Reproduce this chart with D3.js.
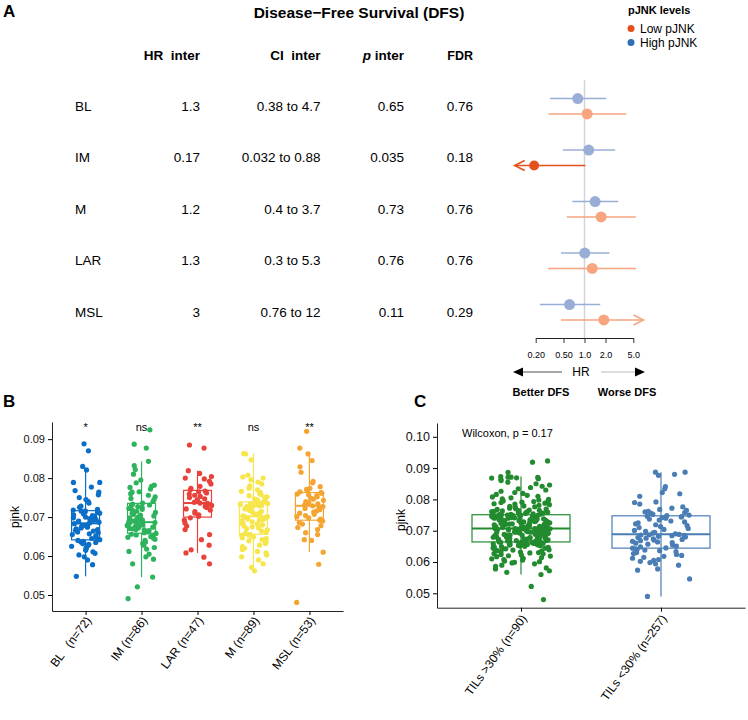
<!DOCTYPE html>
<html>
<head>
<meta charset="utf-8">
<script src="https://cdn.jsdelivr.net/npm/d3@7"></script>
<style>
  body { margin: 0; background: #fff; }
  svg { font-family: "Liberation Sans", Arial, Helvetica, sans-serif; }
  text { white-space: pre; }
</style>
</head>
<body>
<div id="chart"></div>
<script>
// ---------- panel A data (forest table) ----------
const subtypes = ['BL', 'IM', 'M', 'LAR', 'MSL']
const hrInter = ['1.3', '0.17', '1.2', '1.3', '3']
const ciInter = ['0.38 to 4.7', '0.032 to 0.88', '0.4 to 3.7', '0.3 to 5.3', '0.76 to 12']
const pInter = ['0.65', '0.035', '0.73', '0.76', '0.11']
const fdrInter = ['0.76', '0.18', '0.76', '0.76', '0.29']
const highHR = [0.8, 1.15, 1.42, 1.01, 0.61]
const highLower = [0.32, 0.49, 0.67, 0.46, 0.23]
const highUpper = [2.05, 2.75, 3.04, 2.28, 1.68]
const lowHR = [1.09, 0.19, 1.73, 1.29, 1.89]
const lowLower = [0.305, 0.032, 0.56, 0.3, 0.46]
const lowUpper = [3.96, 1.03, 5.43, 5.5, 8.5]
const hrTicks = [0.2, 0.5, 1, 2, 5]

// ---------- panel B data ----------
const bCats = ['BL', 'IM', 'LAR', 'M', 'MSL']
const bLabels = ['BL   (n=72)', 'IM (n=86)', 'LAR (n=47)', 'M (n=89)', 'MSL (n=53)']
const bSig = ['*', 'ns', '**', 'ns', '**']
const blValues = [
  0.0548, 0.0578, 0.0590, 0.0598, 0.0603, 0.0607, 0.0611, 0.0615, 0.0620, 0.0622, 0.0625, 0.0628,
  0.0630, 0.0632, 0.0635, 0.0636, 0.0638, 0.0640, 0.0642, 0.0645, 0.0648, 0.0652, 0.0655, 0.0657,
  0.0660, 0.0662, 0.0664, 0.0666, 0.0668, 0.0670, 0.0672, 0.0674, 0.0676, 0.0678, 0.0680, 0.0683,
  0.0685, 0.0687, 0.0688, 0.0690, 0.0692, 0.0694, 0.0696, 0.0698, 0.0700, 0.0702, 0.0704, 0.0706,
  0.0708, 0.0710, 0.0712, 0.0713, 0.0715, 0.0716, 0.0718, 0.0720, 0.0725, 0.0728, 0.0736, 0.0740,
  0.0745, 0.0750, 0.0757, 0.0764, 0.0768, 0.0777, 0.0789, 0.0789, 0.0821, 0.0830, 0.0870, 0.0888
]
const imValues = [
  0.0491, 0.0521, 0.0546, 0.0580, 0.0592, 0.0598, 0.0605, 0.0612, 0.0618, 0.0622, 0.0628, 0.0632,
  0.0636, 0.0640, 0.0643, 0.0646, 0.0648, 0.0650, 0.0652, 0.0654, 0.0656, 0.0658, 0.0660, 0.0662,
  0.0664, 0.0665, 0.0667, 0.0668, 0.0670, 0.0671, 0.0672, 0.0674, 0.0675, 0.0676, 0.0678, 0.0679,
  0.0680, 0.0681, 0.0682, 0.0683, 0.0684, 0.0685, 0.0686, 0.0688, 0.0690, 0.0692, 0.0694, 0.0696,
  0.0698, 0.0700, 0.0703, 0.0705, 0.0707, 0.0710, 0.0712, 0.0715, 0.0717, 0.0720, 0.0722, 0.0725,
  0.0727, 0.0729, 0.0731, 0.0733, 0.0736, 0.0740, 0.0745, 0.0748, 0.0752, 0.0756, 0.0760, 0.0764,
  0.0765, 0.0772, 0.0776, 0.0779, 0.0782, 0.0788, 0.0795, 0.0810, 0.0822, 0.0832, 0.0843, 0.0877,
  0.0887, 0.0924
]
const larValues = [
  0.0580, 0.0597, 0.0608, 0.0616, 0.0628, 0.0642, 0.0655, 0.0668, 0.0677, 0.0685, 0.0692, 0.0698,
  0.0702, 0.0706, 0.0710, 0.0714, 0.0718, 0.0721, 0.0724, 0.0727, 0.0730, 0.0733, 0.0735, 0.0736,
  0.0738, 0.0741, 0.0744, 0.0747, 0.0750, 0.0753, 0.0756, 0.0759, 0.0762, 0.0765, 0.0767, 0.0770,
  0.0774, 0.0779, 0.0785, 0.0792, 0.0798, 0.0800, 0.0804, 0.0812, 0.0819, 0.0877, 0.0885
]
const mValues = [
  0.0562, 0.0571, 0.0580, 0.0590, 0.0598, 0.0603, 0.0608, 0.0612, 0.0617, 0.0620, 0.0624, 0.0628,
  0.0632, 0.0636, 0.0639, 0.0642, 0.0645, 0.0647, 0.0649, 0.0651, 0.0653, 0.0654, 0.0656, 0.0658,
  0.0661, 0.0664, 0.0667, 0.0670, 0.0672, 0.0675, 0.0677, 0.0680, 0.0682, 0.0684, 0.0686, 0.0688,
  0.0690, 0.0692, 0.0694, 0.0695, 0.0697, 0.0698, 0.0699, 0.0701, 0.0702, 0.0703, 0.0705, 0.0707,
  0.0709, 0.0711, 0.0713, 0.0715, 0.0717, 0.0719, 0.0721, 0.0723, 0.0725, 0.0727, 0.0729, 0.0730,
  0.0731, 0.0732, 0.0734, 0.0735, 0.0736, 0.0737, 0.0739, 0.0741, 0.0744, 0.0747, 0.0750, 0.0752,
  0.0755, 0.0758, 0.0760, 0.0763, 0.0766, 0.0770, 0.0774, 0.0780, 0.0785, 0.0790, 0.0796, 0.0800,
  0.0803, 0.0808, 0.0847, 0.0862, 0.0863
]
const mslValues = [
  0.0481, 0.0579, 0.0610, 0.0640, 0.0642, 0.0655, 0.0660, 0.0668, 0.0673, 0.0678, 0.0682, 0.0686,
  0.0690, 0.0692, 0.0695, 0.0698, 0.0701, 0.0704, 0.0707, 0.0710, 0.0713, 0.0716, 0.0719, 0.0722,
  0.0725, 0.0727, 0.0729, 0.0731, 0.0734, 0.0737, 0.0740, 0.0743, 0.0746, 0.0749, 0.0752, 0.0755,
  0.0757, 0.0759, 0.0761, 0.0763, 0.0765, 0.0768, 0.0771, 0.0774, 0.0778, 0.0788, 0.0792, 0.0815,
  0.0829, 0.0845, 0.0862, 0.0877, 0.0920
]
const bTicks = [0.05, 0.06, 0.07, 0.08, 0.09]

// ---------- panel C data ----------
const cCats = ['high', 'low']
const cLabels = ['TILs >30% (n=90)', 'TILs <30% (n=257)']
const cTest = 'Wilcoxon, p = 0.17'
const cGreenValues = [
  0.0480, 0.0522, 0.0560, 0.0567, 0.0572, 0.0578, 0.0581, 0.0586, 0.0590, 0.0594,
  0.0597, 0.0599, 0.0601, 0.0603, 0.0606, 0.0608, 0.0610, 0.0612, 0.0614, 0.0617,
  0.0619, 0.0620, 0.0622, 0.0624, 0.0626, 0.0627, 0.0629, 0.0630, 0.0632, 0.0633,
  0.0635, 0.0636, 0.0638, 0.0639, 0.0640, 0.0642, 0.0643, 0.0644, 0.0645, 0.0647,
  0.0648, 0.0649, 0.0650, 0.0651, 0.0652, 0.0653, 0.0654, 0.0655, 0.0656, 0.0656,
  0.0657, 0.0658, 0.0658, 0.0659, 0.0660, 0.0660, 0.0661, 0.0661, 0.0662, 0.0662,
  0.0663, 0.0663, 0.0663, 0.0664, 0.0664,
  0.0665, 0.0666, 0.0667, 0.0667, 0.0668, 0.0669, 0.0670, 0.0671, 0.0671, 0.0672,
  0.0673, 0.0674, 0.0674, 0.0675, 0.0676, 0.0677, 0.0677, 0.0678, 0.0679, 0.0680,
  0.0680, 0.0681, 0.0682, 0.0683, 0.0683, 0.0684, 0.0685, 0.0686, 0.0686, 0.0687,
  0.0688, 0.0689, 0.0689, 0.0690, 0.0691, 0.0692, 0.0692, 0.0693, 0.0694, 0.0695,
  0.0695, 0.0696, 0.0697, 0.0698, 0.0698, 0.0699, 0.0700, 0.0700, 0.0701, 0.0702,
  0.0702, 0.0703, 0.0703, 0.0704, 0.0704, 0.0705, 0.0705, 0.0706, 0.0706, 0.0706,
  0.0707, 0.0707, 0.0707, 0.0707,
  0.0708, 0.0709, 0.0710, 0.0711, 0.0711, 0.0712, 0.0713, 0.0714, 0.0715, 0.0716,
  0.0716, 0.0717, 0.0718, 0.0719, 0.0720, 0.0720, 0.0721, 0.0722, 0.0723, 0.0724,
  0.0724, 0.0725, 0.0726, 0.0727, 0.0728, 0.0728, 0.0729, 0.0730, 0.0731, 0.0732,
  0.0732, 0.0733, 0.0734, 0.0735, 0.0735, 0.0736, 0.0737, 0.0738, 0.0738, 0.0739,
  0.0740, 0.0740, 0.0741, 0.0742, 0.0742, 0.0743, 0.0744, 0.0744, 0.0745, 0.0745,
  0.0746, 0.0746, 0.0747, 0.0747, 0.0748, 0.0748, 0.0749, 0.0749, 0.0750, 0.0750,
  0.0750, 0.0751, 0.0751, 0.0751,
  0.0752, 0.0753, 0.0754, 0.0755, 0.0756, 0.0757, 0.0758, 0.0759, 0.0760, 0.0761,
  0.0762, 0.0763, 0.0764, 0.0765, 0.0766, 0.0768, 0.0769, 0.0770, 0.0772, 0.0773,
  0.0775, 0.0776, 0.0778, 0.0779, 0.0781, 0.0783, 0.0785, 0.0786, 0.0788, 0.0790,
  0.0791, 0.0793, 0.0795, 0.0796, 0.0798, 0.0800, 0.0802, 0.0805, 0.0808, 0.0810,
  0.0813, 0.0816, 0.0819, 0.0822, 0.0826, 0.0830, 0.0834, 0.0838, 0.0842, 0.0846,
  0.0850, 0.0855, 0.0860, 0.0864, 0.0866, 0.0868, 0.0869, 0.0870, 0.0871, 0.0871,
  0.0873, 0.0886, 0.0919, 0.0923
]
const cBlueValues = [
  0.0490, 0.0546, 0.0574, 0.0578, 0.0590, 0.0594, 0.0598, 0.0602, 0.0605, 0.0608,
  0.0612, 0.0615, 0.0618, 0.0621, 0.0624, 0.0627, 0.0630, 0.0633, 0.0636, 0.0638,
  0.0640, 0.0642, 0.0644, 0.0645, 0.0648, 0.0651, 0.0654, 0.0657, 0.0660, 0.0662,
  0.0664, 0.0666, 0.0668, 0.0670, 0.0672, 0.0674, 0.0676, 0.0678, 0.0680, 0.0682,
  0.0684, 0.0685, 0.0686, 0.0687, 0.0688, 0.0690, 0.0692, 0.0695, 0.0698, 0.0701,
  0.0704, 0.0707, 0.0710, 0.0713, 0.0716, 0.0719, 0.0722, 0.0725, 0.0728, 0.0731,
  0.0734, 0.0737, 0.0740, 0.0742, 0.0744, 0.0745, 0.0746, 0.0748, 0.0750, 0.0752,
  0.0755, 0.0758, 0.0760, 0.0762, 0.0765, 0.0768, 0.0772, 0.0776, 0.0785, 0.0790,
  0.0792, 0.0810, 0.0818, 0.0822, 0.0834, 0.0841, 0.0877, 0.0880, 0.0887, 0.0887
]
const cTicks = [0.05, 0.06, 0.07, 0.08, 0.09, 0.1]

// ---------- styles ----------
const bColors = { BL: '#0b6fc7', IM: '#2db35c', LAR: '#e8423a', M: '#f6e64c', MSL: '#f4a531' }
const cColors = { high: '#238b2f', low: '#4a7db5' }
const fadedBlue = '#98aed6'
const fadedOrange = '#f7a47f'
const strongOrange = '#e4511c'
const strongBlue = '#2f6db5'

const svg = d3
  .select('#chart')
  .append('svg')
  .attr('width', 748)
  .attr('height', 720)

// fixed horizontal spread for the jittered points (same every render)
function jitter(i) {
  const s = Math.sin(i * 12.9898 + 78.233) * 43758.5453
  return (s - Math.floor(s)) * 2 - 1
}

function boxStats(values) {
  const s = values.slice().sort(d3.ascending)
  const q1 = d3.quantileSorted(s, 0.25)
  const med = d3.quantileSorted(s, 0.5)
  const q3 = d3.quantileSorted(s, 0.75)
  const iqr = q3 - q1
  const lo = d3.min(s.filter(d => d >= q1 - 1.5 * iqr))
  const hi = d3.max(s.filter(d => d <= q3 + 1.5 * iqr))
  return { q1, med, q3, lo, hi }
}

// panel letters
svg.append('text').text('A').attr('x', 3).attr('y', 17).attr('font-size', 17).attr('font-weight', 'bold')
svg.append('text').text('B').attr('x', 3).attr('y', 407).attr('font-size', 17).attr('font-weight', 'bold')
svg.append('text').text('C').attr('x', 414).attr('y', 407).attr('font-size', 17).attr('font-weight', 'bold')

// ================= Panel A =================
const rowScale = d3.scaleBand().domain(subtypes).range([80.5, 338])
const rowMid = d => rowScale(d) + rowScale.bandwidth() / 2

svg
  .append('text')
  .text('Disease\u2212Free Survival (DFS)')
  .attr('x', 359)
  .attr('y', 18)
  .attr('text-anchor', 'middle')
  .attr('font-size', 15.5)
  .attr('font-weight', 'bold')

const colX = { hr: 200, ci: 320.5, p: 404, fdr: 473 }
const header = svg.append('g').attr('font-size', 13.5).attr('font-weight', 'bold').attr('text-anchor', 'end')
header.append('text').text('HR  inter').attr('x', colX.hr).attr('y', 60)
header.append('text').text('CI  inter').attr('x', colX.ci).attr('y', 60)
const pHead = header.append('text').attr('x', colX.p).attr('y', 60)
pHead.append('tspan').text('p').attr('font-style', 'italic')
pHead.append('tspan').text(' inter')
header.append('text').text('FDR').attr('x', colX.fdr).attr('y', 60).attr('font-size', 12.5)

const table = svg.append('g').attr('font-size', 13.5)
subtypes.forEach(function(s, i) {
  const y = rowMid(s)
  table.append('text').text(s).attr('x', 75).attr('y', y).attr('dy', '0.35em')
  table.append('text').text(hrInter[i]).attr('x', colX.hr).attr('y', y).attr('dy', '0.35em').attr('text-anchor', 'end')
  table.append('text').text(ciInter[i]).attr('x', colX.ci).attr('y', y).attr('dy', '0.35em').attr('text-anchor', 'end')
  table.append('text').text(pInter[i]).attr('x', colX.p).attr('y', y).attr('dy', '0.35em').attr('text-anchor', 'end')
  table.append('text').text(fdrInter[i]).attr('x', colX.fdr).attr('y', y).attr('dy', '0.35em').attr('text-anchor', 'end')
})

// forest scale: log, ticks 0.2..5, clip limits for CIs
const hrScale = d3.scaleLog().domain([0.2, 5]).range([535.7, 633.3])
const clipMin = 0.1
const clipMax = 7
const axisY = 338

svg
  .append('line')
  .attr('x1', hrScale(1))
  .attr('x2', hrScale(1))
  .attr('y1', 80)
  .attr('y2', axisY)
  .attr('stroke', '#d4d4d4')
  .attr('stroke-width', 1.5)

function drawCI(g, lo, hi, est, y, color, r) {
  const x1 = hrScale(Math.max(lo, clipMin))
  const x2 = hrScale(Math.min(hi, clipMax))
  g.append('line')
    .attr('x1', x1)
    .attr('x2', x2)
    .attr('y1', y)
    .attr('y2', y)
    .attr('stroke', color)
    .attr('stroke-width', 1.6)
  if (lo < clipMin) {
    g.append('path')
      .attr('d', `M${x1 + 10},${y - 5}L${x1},${y}L${x1 + 10},${y + 5}`)
      .attr('fill', 'none')
      .attr('stroke', color)
      .attr('stroke-width', 1.6)
  }
  if (hi > clipMax) {
    g.append('path')
      .attr('d', `M${x2 - 10},${y - 5}L${x2},${y}L${x2 - 10},${y + 5}`)
      .attr('fill', 'none')
      .attr('stroke', color)
      .attr('stroke-width', 1.6)
  }
  g.append('circle').attr('cx', hrScale(est)).attr('cy', y).attr('r', r).attr('fill', color)
}

const forest = svg.append('g')
subtypes.forEach(function(s, i) {
  const y = rowMid(s)
  const sig = +pInter[i] < 0.05
  drawCI(forest, highLower[i], highUpper[i], highHR[i], y - 7.7, fadedBlue, 5.5)
  drawCI(forest, lowLower[i], lowUpper[i], lowHR[i], y + 7.7, sig ? strongOrange : fadedOrange, sig ? 5 : 5.5)
})

const hrAxis = d3
  .axisBottom(hrScale)
  .tickValues(hrTicks)
  .tickFormat(d => (d < 1 ? d.toFixed(2) : d.toFixed(1)))
  .tickSize(5)
  .tickSizeOuter(0)
  .tickPadding(9)
const hrAxisG = svg
  .append('g')
  .attr('transform', 'translate(0,' + axisY + ')')
  .call(hrAxis)
hrAxisG.selectAll('text').attr('font-size', 9).attr('font-family', null)
hrAxisG.selectAll('line,path').attr('stroke', '#333')

// HR direction arrows
svg.append('line').attr('x1', 523).attr('x2', 562).attr('y1', 372).attr('y2', 372).attr('stroke', '#888').attr('stroke-width', 1.5)
svg.append('path').attr('d', 'M513,372L523,367.5L523,376.5Z').attr('fill', '#000')
svg.append('line').attr('x1', 601).attr('x2', 637).attr('y1', 372).attr('y2', 372).attr('stroke', '#d0d0d0').attr('stroke-width', 1.5)
svg.append('path').attr('d', 'M645,372L635,367.5L635,376.5Z').attr('fill', '#000')
svg.append('text').text('HR').attr('x', 581).attr('y', 372).attr('dy', '0.35em').attr('text-anchor', 'middle').attr('font-size', 12)
svg.append('text').text('Better DFS').attr('x', 541).attr('y', 396).attr('text-anchor', 'middle').attr('font-size', 11).attr('font-weight', 'bold')
svg.append('text').text('Worse DFS').attr('x', 627).attr('y', 396).attr('text-anchor', 'middle').attr('font-size', 11).attr('font-weight', 'bold')

// legend
const legend = svg.append('g')
legend.append('text').text('pJNK levels').attr('x', 628).attr('y', 14).attr('font-size', 11).attr('font-weight', 'bold')
const legendItems = [['Low pJNK', strongOrange], ['High pJNK', strongBlue]]
legendItems.forEach(function(d, i) {
  legend.append('circle').attr('cx', 631).attr('cy', 28.5 + i * 14).attr('r', 3.5).attr('fill', d[1])
  legend.append('text').text(d[0]).attr('x', 640).attr('y', 28.5 + i * 14).attr('dy', '0.35em').attr('font-size', 12)
})

// ================= Panel B =================
const bValues = { BL: blValues, IM: imValues, LAR: larValues, M: mValues, MSL: mslValues }
const bX = d3.scalePoint().domain(bCats).range([52, 343]).padding(0.6)
const bY = d3.scaleLinear().domain([0.0459, 0.0944]).range([611, 422])
const bBoxW = bX.step() * 0.5
const bJit = bX.step() * 0.26

const bPlot = svg.append('g')
bCats.forEach(function(c, i) {
  const st = boxStats(bValues[c])
  const cx = bX(c)
  const col = bColors[c]
  const g = bPlot.append('g').attr('stroke', col).attr('fill', 'none').attr('stroke-width', 1.2)
  g.append('line').attr('x1', cx).attr('x2', cx).attr('y1', bY(st.hi)).attr('y2', bY(st.q3))
  g.append('line').attr('x1', cx).attr('x2', cx).attr('y1', bY(st.q1)).attr('y2', bY(st.lo))
  g.append('rect')
    .attr('x', cx - bBoxW / 2)
    .attr('y', bY(st.q3))
    .attr('width', bBoxW)
    .attr('height', bY(st.q1) - bY(st.q3))
  g.append('line')
    .attr('x1', cx - bBoxW / 2)
    .attr('x2', cx + bBoxW / 2)
    .attr('y1', bY(st.med))
    .attr('y2', bY(st.med))
    .attr('stroke-width', 2)
  bPlot
    .append('g')
    .selectAll('circle')
    .data(bValues[c])
    .enter()
    .append('circle')
    .attr('cx', (d, j) => cx + jitter(j + i * 101) * bJit)
    .attr('cy', d => bY(d))
    .attr('r', 2.6)
    .attr('fill', col)
  bPlot
    .append('text')
    .text(bSig[i])
    .attr('x', cx)
    .attr('y', 431)
    .attr('text-anchor', 'middle')
    .attr('font-size', 11)
})

const bYAxis = svg
  .append('g')
  .attr('transform', 'translate(52,0)')
  .call(d3.axisLeft(bY).tickValues(bTicks).tickFormat(d3.format('.2f')).tickSize(4).tickSizeOuter(0))
bYAxis.selectAll('text').attr('font-size', 11).attr('font-family', null).attr('fill', '#111')
svg
  .append('g')
  .attr('transform', 'translate(0,611)')
  .call(d3.axisBottom(bX).tickSize(4).tickSizeOuter(0).tickFormat(''))
svg.selectAll('path.domain').attr('stroke', '#222')

bCats.forEach(function(c, i) {
  svg
    .append('text')
    .text(bLabels[i])
    .attr('transform', 'translate(' + (bX(c) + 3) + ',618) rotate(-53)')
    .attr('text-anchor', 'end')
    .attr('dy', '0.35em')
    .attr('font-size', 12)
})
svg
  .append('text')
  .text('pjnk')
  .attr('transform', 'translate(15,517) rotate(-90)')
  .attr('text-anchor', 'middle')
  .attr('dy', '0.35em')
  .attr('font-size', 12)

// ================= Panel C =================
const cValues = { high: cGreenValues, low: cBlueValues }
const cX = d3.scalePoint().domain(cCats).range([437, 745]).padding(0.6)
const cY = d3.scaleLinear().domain([0.0454, 0.1044]).range([607.7, 423])
const cBoxW = cX.step() * 0.7
const cJit = cX.step() * 0.21

const cPlot = svg.append('g')
cCats.forEach(function(c, i) {
  const st = boxStats(cValues[c])
  const cx = cX(c)
  const col = cColors[c]
  const g = cPlot.append('g').attr('stroke', col).attr('fill', 'none').attr('stroke-width', 1.2)
  g.append('line').attr('x1', cx).attr('x2', cx).attr('y1', cY(st.hi)).attr('y2', cY(st.lo))
  g.append('rect')
    .attr('x', cx - cBoxW / 2)
    .attr('y', cY(st.q3))
    .attr('width', cBoxW)
    .attr('height', cY(st.q1) - cY(st.q3))
  g.append('line')
    .attr('x1', cx - cBoxW / 2)
    .attr('x2', cx + cBoxW / 2)
    .attr('y1', cY(st.med))
    .attr('y2', cY(st.med))
    .attr('stroke-width', 2)
  cPlot
    .append('g')
    .selectAll('circle')
    .data(cValues[c])
    .enter()
    .append('circle')
    .attr('cx', (d, j) => cx + jitter(j + 600 + i * 400) * cJit)
    .attr('cy', d => cY(d))
    .attr('r', 2.6)
    .attr('fill', col)
})

const cYAxis = svg
  .append('g')
  .attr('transform', 'translate(437,0)')
  .call(d3.axisLeft(cY).tickValues(cTicks).tickFormat(d3.format('.2f')).tickSize(4).tickSizeOuter(0))
cYAxis.selectAll('text').attr('font-size', 12.5).attr('font-family', null).attr('fill', '#111')
svg
  .append('g')
  .attr('transform', 'translate(0,607.7)')
  .call(d3.axisBottom(cX).tickSize(4).tickSizeOuter(0).tickFormat(''))
svg.selectAll('path.domain').attr('stroke', '#222')

cCats.forEach(function(c, i) {
  svg
    .append('text')
    .text(cLabels[i])
    .attr('transform', 'translate(' + (cX(c) + 3) + ',616) rotate(-54)')
    .attr('text-anchor', 'end')
    .attr('dy', '0.35em')
    .attr('font-size', 12)
})
svg
  .append('text')
  .text(cTest)
  .attr('x', 462)
  .attr('y', 433)
  .attr('dy', '0.35em')
  .attr('font-size', 11)
svg
  .append('text')
  .text('pjnk')
  .attr('transform', 'translate(401,520) rotate(-90)')
  .attr('text-anchor', 'middle')
  .attr('dy', '0.35em')
  .attr('font-size', 12)
</script>
</body>
</html>
